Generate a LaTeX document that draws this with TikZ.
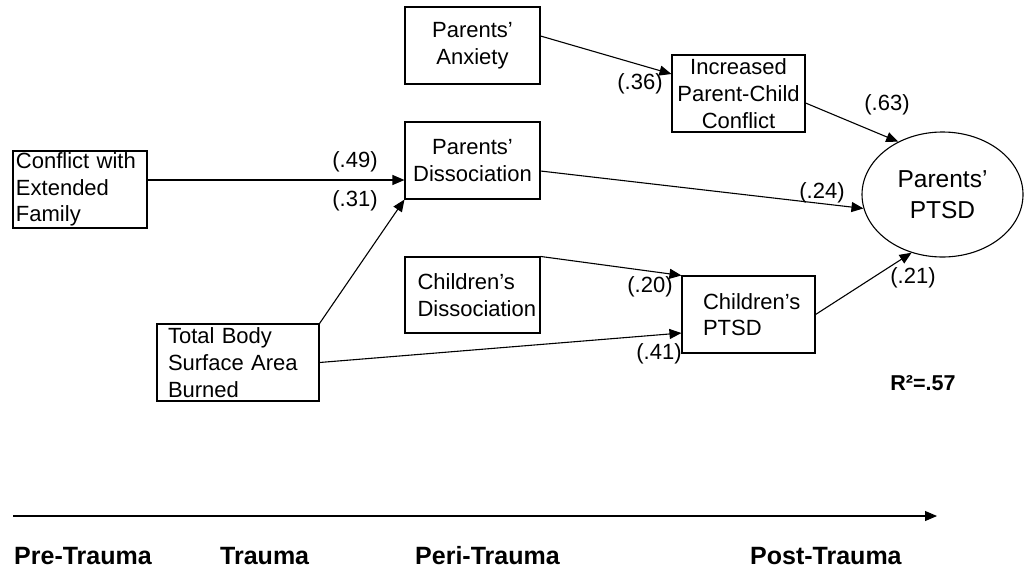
\documentclass[tikz,border=0pt]{standalone}
\usepackage{fontspec}
\setmainfont{Liberation Sans}
\usetikzlibrary{calc,arrows.meta,shapes.geometric}
\tikzset{
	box/.style={draw, line width=1.1pt, rectangle, inner sep=0pt, minimum height=77pt, font=\fontsize{22}{26.7}\selectfont},
	coef/.style={inner sep=0pt, font=\fontsize{22}{26}\selectfont},
	phase/.style={anchor=base west, inner sep=0pt, font=\fontsize{25}{30}\selectfont\bfseries},
	link/.style={line width=1.1pt, -{Triangle[length=12pt,width=10pt]}},
}

\begin{document}
\begin{tikzpicture}[x=1pt,y=-1pt]
			%%%%% START %%%%%
			\useasboundingbox (0,0) rectangle (1027,571);
			
			\node[box, minimum width=134pt, text width=128pt, align=left] (conflict) at (80,189.5) {Conflict with\\Extended\\Family};
			\node[box, minimum width=162pt, text width=140pt, align=left] (tbsa) at (238,362.5) {Total Body\\Surface Area\\Burned};
			
			\node[box, minimum width=135pt, text width=125pt, align=center] (panx) at (472.5,45.5) {Parents'\\Anxiety};
			\node[box, minimum width=135pt, text width=125pt, align=center] (pdiss) at (472.5,160.5) {Parents'\\Dissociation};
			\node[box, minimum width=135pt, minimum height=76pt, text width=110pt, align=left] (cdiss) at (472.5,295) {Children's\\Dissociation};
			
			\node[box, minimum width=133pt, text width=125pt, align=center] (incr) at (738.5,93.5) {Increased\\Parent-Child\\Conflict};
			\node[box, minimum width=133pt, text width=91pt, align=left] (cptsd) at (748.5,314.5) {Children's\\PTSD};
			
			\node[draw, ellipse, line width=1.1pt, minimum width=161pt, minimum height=125pt, inner sep=0pt, align=center, font=\fontsize{24.5}{31}\selectfont] (pptsd) at (942.5,194.5) {Parents'\\PTSD};
			
			\draw[link] ($(conflict.east)+(0,-9.5)$) -- ($(pdiss.west)+(0,19.5)$);
			\draw[link] (tbsa.north east) -- (pdiss.south west);
			\draw[link] (tbsa.east) -- ($(cptsd.west)+(0,18.5)$);
			\draw[link] (cdiss.north east) -- (cptsd.north west);
			\draw[link] ($(panx.east)+(0,-9.5)$) -- ($(incr.west)+(0,-19.5)$);
			\draw[link] ($(pdiss.east)+(0,10.5)$) -- (pptsd.190);
			\draw[link] ($(incr.east)+(0,9.5)$) -- (pptsd.130);
			\draw[link] (cptsd.east) -- (pptsd.242);
			
			\node[coef] (c49) at (355,162) {(.49)};
			\node[coef] (c31) at (355,201) {(.31)};
			\node[coef] (c36) at (640,84) {(.36)};
			\node[coef] (c63) at (887,105) {(.63)};
			\node[coef] (c24) at (822,193) {(.24)};
			\node[coef] (c20) at (650,287) {(.20)};
			\node[coef] (c21) at (913,278) {(.21)};
			\node[coef] (c41) at (659,354) {(.41)};
			
			\node[coef, font=\fontsize{21.5}{26}\selectfont\bfseries] (rsq) at (923,383) {R²=.57};
			
			\coordinate (tstart) at (13,516);
			\coordinate (tend) at (937,516);
			\draw[link] (tstart) -- (tend);
			
			\node[phase] (pre) at (14,564) {Pre-Trauma};
			\node[phase] (trauma) at (220,564) {Trauma};
			\node[phase] (peri) at (415,564) {Peri-Trauma};
			\node[phase] (post) at (750,564) {Post-Trauma};
			
			%%%%% END %%%%%
		\end{tikzpicture}
\end{document}
